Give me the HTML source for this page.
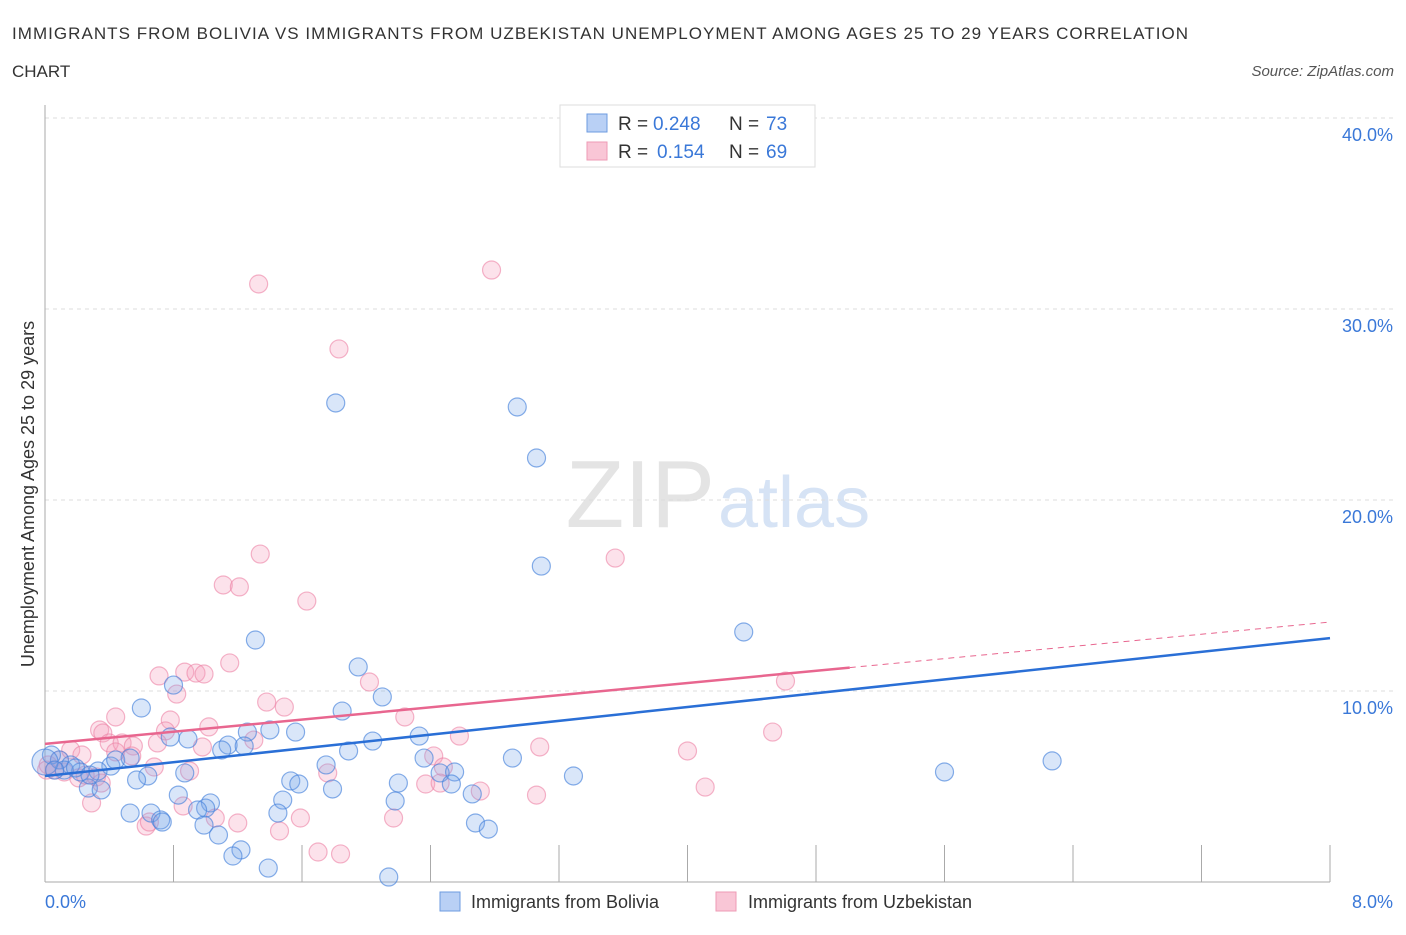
<!DOCTYPE html>
<html><head><meta charset="utf-8"><style>
body{margin:0;background:#fff;font-family:"Liberation Sans",sans-serif;}
svg text{font-family:"Liberation Sans",sans-serif;}
</style></head><body>
<svg id="chart" width="1406" height="930" xmlns="http://www.w3.org/2000/svg">
<text x="12" y="39" font-size="17" fill="#333" textLength="1176">IMMIGRANTS FROM BOLIVIA VS IMMIGRANTS FROM UZBEKISTAN UNEMPLOYMENT AMONG AGES 25 TO 29 YEARS CORRELATION</text>
<text x="12" y="77" font-size="17" fill="#333">CHART</text>
<text x="1394" y="76" font-size="15" fill="#555" text-anchor="end" font-style="italic">Source: ZipAtlas.com</text>
<text x="715" y="527" font-size="96" text-anchor="end" fill="#e4e4e4" font-family="Liberation Serif">ZIP</text>
<text x="718" y="527" font-size="72" fill="#d6e3f5">atlas</text>
<g id="grid"></g>
<g id="axes"></g>
<g id="points"></g>
<g id="trends"></g>
<text transform="translate(34,494) rotate(-90)" font-size="18" fill="#333" text-anchor="middle">Unemployment Among Ages 25 to 29 years</text>
<g>
<rect x="560" y="105" width="255" height="62" fill="#fff" stroke="#ddd"/>
<rect x="587" y="114" width="20" height="18" fill="#b9d0f5" stroke="#6d9be0"/>
<text x="618" y="130" font-size="19" fill="#333">R =</text>
<text x="653" y="130" font-size="19" fill="#3a78d8">0.248</text>
<text x="729" y="130" font-size="19" fill="#333">N =</text>
<text x="766" y="130" font-size="19" fill="#3a78d8">73</text>
<rect x="587" y="142" width="20" height="18" fill="#f9c6d6" stroke="#ee9bb5"/>
<text x="618" y="158" font-size="19" fill="#333">R =</text>
<text x="657" y="158" font-size="19" fill="#3a78d8">0.154</text>
<text x="729" y="158" font-size="19" fill="#333">N =</text>
<text x="766" y="158" font-size="19" fill="#3a78d8">69</text>
</g>
<g>
<rect x="440" y="892" width="20" height="19" fill="#b9d0f5" stroke="#6d9be0"/>
<text x="471" y="908" font-size="18" fill="#333">Immigrants from Bolivia</text>
<rect x="716" y="892" width="20" height="19" fill="#f9c6d6" stroke="#ee9bb5"/>
<text x="748" y="908" font-size="18" fill="#333">Immigrants from Uzbekistan</text>
</g>
</svg>
<script>
const bolX=[1.81,2.94,3.06,3.09,4.35,1.31,1.95,0.80,2.10,1.85,0.60,1.40,1.56,1.26,0.78,0.89,2.33,2.04,1.14,1.24,1.10,1.89,2.91,1.75,2.36,6.27,5.60,3.29,2.46,2.55,0.87,0.64,0.57,1.53,1.58,2.53,2.20,0.41,0.44,0.53,0.33,0.27,0.35,0.83,1.79,2.66,1.48,2.18,1.03,1.00,0.95,0.66,0.53,0.72,0.73,1.45,2.68,2.76,0.99,1.08,1.22,1.17,1.39,2.14,0.09,0.16,0.04,0.22,0.12,0.00,0.06,0.19,0.28];
const bolY=[25.08,24.87,22.20,16.54,13.09,12.67,11.26,10.31,9.69,8.95,9.11,7.96,7.85,7.85,7.59,7.49,7.64,7.38,7.17,7.12,6.91,6.86,6.49,6.13,6.49,6.34,5.76,5.55,5.71,5.76,5.71,5.55,5.34,5.29,5.13,5.13,5.18,6.07,6.39,6.49,5.81,4.92,4.82,4.55,4.87,4.61,4.29,4.24,4.14,3.87,3.77,3.61,3.61,3.25,3.14,3.61,3.09,2.77,2.98,2.46,1.68,1.36,0.73,0.26,6.39,6.13,6.65,5.76,5.86,6.28,5.86,5.97,5.60];
const uzbX=[2.78,1.33,1.83,1.34,3.55,1.11,1.21,1.63,1.15,0.71,0.87,0.94,0.99,4.61,2.02,0.82,1.38,1.49,2.24,0.44,0.78,0.34,0.36,1.02,0.75,2.58,1.30,4.53,0.40,0.48,0.98,0.70,3.08,4.00,0.55,0.44,0.54,2.42,0.68,2.48,0.90,1.76,0.32,0.35,2.37,2.46,2.71,3.06,4.11,0.29,0.86,1.59,1.06,1.20,2.17,1.46,0.63,0.65,1.70,1.84,0.02,0.06,0.12,0.21,0.25,0.09,0.16,0.23,0.01];
const uzbY=[32.04,31.31,27.91,17.17,16.96,15.55,15.45,14.71,11.47,10.79,10.99,10.94,10.89,10.52,10.47,9.84,9.42,9.16,8.64,8.64,8.48,7.96,7.80,8.12,7.91,7.64,7.43,7.85,7.28,7.28,7.07,7.28,7.07,6.86,7.12,6.81,6.60,6.60,6.02,6.02,5.81,5.71,5.50,5.18,5.13,5.18,4.76,4.55,4.97,4.14,3.98,3.35,3.35,3.09,3.35,2.67,2.93,3.14,1.57,1.47,6.13,5.86,5.76,5.45,5.60,6.39,6.91,6.65,5.86];
const yTicks=[10,20,30,40];
const yTickLabels=["10.0%","20.0%","30.0%","40.0%"];
const xTicks=[0,0.8,1.6,2.4,3.2,4.0,4.8,5.6,6.4,7.2,8.0];
const bolTrend=[5.55,12.77];
const uzbTrend=[7.23,13.61];
const uzbSolidEnd=5.01;

const NS="http://www.w3.org/2000/svg";
const X0=45,X1=1330,Y0=882,PXY=19.1;
function sx(v){return X0+(X1-X0)*v/8;}
function sy(v){return Y0-v*PXY;}
function mk(tag,attrs,parent){const e=document.createElementNS(NS,tag);for(const k in attrs)e.setAttribute(k,attrs[k]);parent.appendChild(e);return e;}
const grid=document.getElementById('grid'),axes=document.getElementById('axes'),pts=document.getElementById('points'),tr=document.getElementById('trends');
yTicks.forEach((t,i)=>{
  const l=mk('line',{x1:X0,x2:1394,y1:sy(t),y2:sy(t),stroke:'#ddd','stroke-dasharray':'4,4'},grid);
  
  
  const tx=mk('text',{x:1393,y:sy(t)+23,'font-size':18,fill:'#3a78d8','text-anchor':'end'},grid);
  tx.textContent=yTickLabels[i];
  
  
});
let a=mk('line',{x1:X0,x2:X0,y1:105,y2:Y0,stroke:'#aaa'},axes);


a=mk('line',{x1:X0,x2:X1,y1:Y0,y2:Y0,stroke:'#aaa'},axes);


xTicks.forEach(t=>{
  const l=mk('line',{x1:sx(t),x2:sx(t),y1:845,y2:Y0,stroke:'#aaa'},axes);
  
  
});
let xl=mk('text',{x:45,y:908,'font-size':18,fill:'#3a78d8'},axes);xl.textContent='0.0%';


xl=mk('text',{x:1393,y:908,'font-size':18,fill:'#3a78d8','text-anchor':'end'},axes);xl.textContent='8.0%';


function dots(xs,ys,fill,stroke,name){
  xs.forEach((v,i)=>{
    const c=mk('circle',{cx:sx(v),cy:sy(ys[i]),r:(v===0?13:9),fill:fill,stroke:stroke,'stroke-width':1.2},pts);
    
    
  });
}
dots(uzbX,uzbY,'rgba(244,160,190,0.3)','rgba(236,130,165,0.6)','uzbekistan-point');
dots(bolX,bolY,'rgba(120,165,235,0.28)','rgba(70,130,220,0.65)','bolivia-point');
let ln=mk('line',{x1:sx(0),y1:sy(bolTrend[0]),x2:sx(8),y2:sy(bolTrend[1]),stroke:'#2a6fd6','stroke-width':2.5},tr);


const uy=v=>uzbTrend[0]+(uzbTrend[1]-uzbTrend[0])*v/8;
ln=mk('line',{x1:sx(0),y1:sy(uzbTrend[0]),x2:sx(uzbSolidEnd),y2:sy(uy(uzbSolidEnd)),stroke:'#e8668f','stroke-width':2.5},tr);


ln=mk('line',{x1:sx(uzbSolidEnd),y1:sy(uy(uzbSolidEnd)),x2:sx(8),y2:sy(uzbTrend[1]),stroke:'#e8668f','stroke-width':1,'stroke-dasharray':'6,5'},tr);


</script>
</body></html>
